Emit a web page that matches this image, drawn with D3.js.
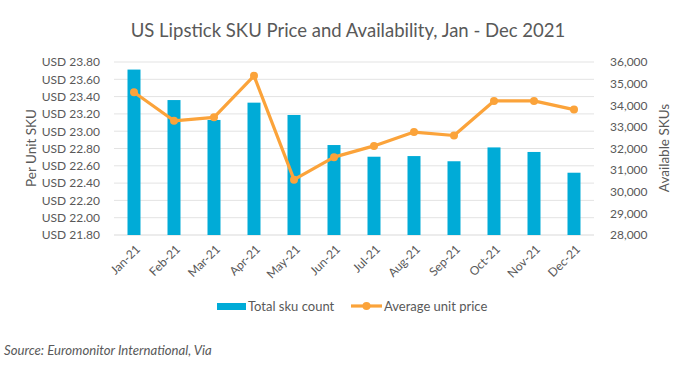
<!DOCTYPE html>
<html><head><meta charset="utf-8">
<script src="https://cdn.jsdelivr.net/npm/d3@7"></script>
<style>body{margin:0;background:#fff;} svg{display:block;font-family:Lato,"Open Sans",sans-serif;}</style>
</head><body><svg id="c" width="700" height="366"></svg>
<script>
const months = ["Jan-21","Feb-21","Mar-21","Apr-21","May-21","Jun-21","Jul-21","Aug-21","Sep-21","Oct-21","Nov-21","Dec-21"];
const skuCount = [35650,34240,33320,34120,33550,32160,31620,31650,31410,32050,31840,30880];
const avgPrice = [23.45,23.12,23.16,23.64,22.44,22.70,22.83,22.99,22.95,23.35,23.35,23.25];
const priceTicks = [21.8,22.0,22.2,22.4,22.6,22.8,23.0,23.2,23.4,23.6,23.8];
const skuTicks = [28000,29000,30000,31000,32000,33000,34000,35000,36000];

const svg = d3.select("#c");
const gray = "#595959";
const L = 114, R = 594, T = 62, B = 235;
const x = d3.scaleBand().domain(months).range([L, R]).paddingInner(0.675).paddingOuter(0.3375);
const yL = d3.scaleLinear().domain([21.8, 23.8]).range([B, T]);
const yR = d3.scaleLinear().domain([28000, 36000]).range([B, T]);

function fit(sel, size, width) {
  sel.style("font-size", size + "px");
  const w = sel.node().getComputedTextLength();
  sel.style("font-size", (size * width / w).toFixed(2) + "px");
}

// gridlines
svg.append("g").selectAll("line").data(priceTicks).join("line")
  .attr("x1", L).attr("x2", R).attr("y1", d => yL(d)).attr("y2", d => yL(d))
  .attr("stroke", d => d === 21.8 ? "#d9d9d9" : "#e3e3e3").attr("stroke-width", 1);

// left axis
const ax = svg.append("g").attr("transform", `translate(${L},0)`)
  .call(d3.axisLeft(yL).tickValues(priceTicks).tickSize(0).tickPadding(14).tickFormat(d => "USD " + d.toFixed(2)));
ax.select(".domain").remove();
ax.selectAll("text").attr("fill", gray).style("font-size", "12px").style("font-family", "Lato");

// right axis
const ar = svg.append("g").attr("transform", `translate(${R},0)`)
  .call(d3.axisRight(yR).tickValues(skuTicks).tickSize(0).tickPadding(16).tickFormat(d3.format(",")));
ar.select(".domain").remove();
ar.selectAll("text").attr("fill", gray).style("font-size", "12px").style("font-family", "Lato");

// bars
svg.append("g").selectAll("rect").data(months).join("rect")
  .attr("x", d => x(d)).attr("width", x.bandwidth())
  .attr("y", (d, i) => yR(skuCount[i])).attr("height", (d, i) => B - yR(skuCount[i]))
  .attr("fill", "#00ABD7");

// line
const cx = d => x(d) + x.bandwidth() / 2;
const line = d3.line().x((d, i) => cx(months[i])).y(d => yL(d));
svg.append("path").datum(avgPrice).attr("d", line).attr("fill", "none")
  .attr("stroke", "#FBA33A").attr("stroke-width", 3.2).attr("stroke-linejoin", "round");
svg.append("g").selectAll("circle").data(avgPrice).join("circle")
  .attr("cx", (d, i) => cx(months[i])).attr("cy", d => yL(d)).attr("r", 4).attr("fill", "#FBA33A");

// x labels
svg.append("g").selectAll("text").data(months).join("text")
  .attr("transform", d => `translate(${cx(d) + 4},${B + 12}) rotate(-45)`)
  .attr("text-anchor", "end").attr("dy", "0.35em")
  .attr("fill", gray).style("font-size", "12px").text(d => d);

// axis titles
svg.append("text").attr("transform", "translate(36,148) rotate(-90)").attr("text-anchor", "middle")
  .attr("fill", gray).style("font-size", "13.5px").text("Per Unit SKU");
svg.append("text").attr("transform", "translate(669,148) rotate(-90)").attr("text-anchor", "middle")
  .attr("fill", gray).style("font-size", "13.5px").text("Available SKUs");

// title
const title = svg.append("text").attr("x", 348).attr("y", 37).attr("text-anchor", "middle")
  .attr("fill", gray).text("US Lipstick SKU Price and Availability, Jan - Dec 2021");
fit(title, 19, 435);

// legend
const lg = svg.append("g");
lg.append("rect").attr("x", 217).attr("y", 303).attr("width", 29).attr("height", 7).attr("fill", "#00ABD7");
lg.append("text").attr("x", 248).attr("y", 306).attr("dy", "0.35em").attr("fill", gray).style("font-size", "13px").text("Total sku count");
lg.append("line").attr("x1", 351).attr("x2", 382).attr("y1", 306).attr("y2", 306).attr("stroke", "#FBA33A").attr("stroke-width", 3.2);
lg.append("circle").attr("cx", 366.5).attr("cy", 306).attr("r", 4).attr("fill", "#FBA33A");
lg.append("text").attr("x", 384).attr("y", 306).attr("dy", "0.35em").attr("fill", gray).style("font-size", "13px").text("Average unit price");

// source
const src = svg.append("text").attr("x", 4).attr("y", 350).attr("dy", "0.35em").attr("fill", gray)
  .style("font-style", "italic").text("Source: Euromonitor International, Via");
fit(src, 12, 208);
</script></body></html>
